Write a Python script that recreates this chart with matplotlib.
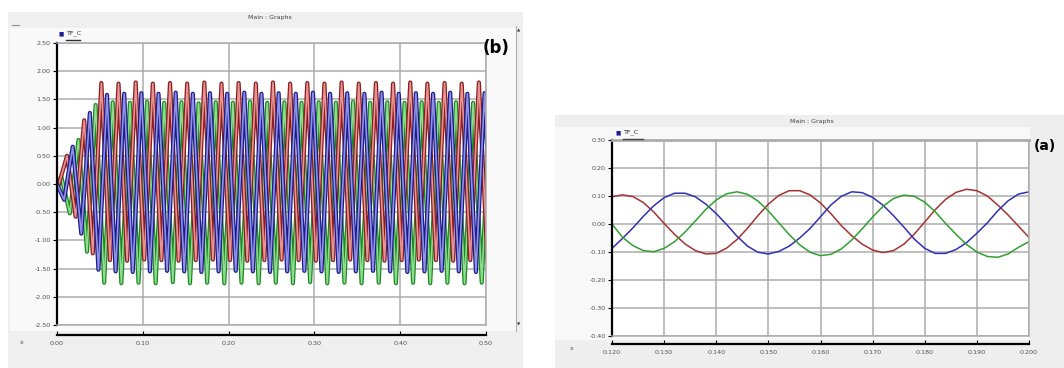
import numpy as np
import matplotlib
matplotlib.use('Agg')
import matplotlib.pyplot as plt

W, H = 1064, 368

# ---- panel (b): start-up of the three phases, one extreme per half cycle ----
# times of the first extreme of each phase (s); extremes follow every half period
b_half_period = 0.01
b_t0_green = 0.005
b_t0_red = 0.0017
b_t0_blue = 0.0083

b_green_peaks = [0.13, -0.52, 0.78, -1.20, 1.40, -1.75,
                 1.45, -1.76, 1.44, -1.75, 1.46, -1.76, 1.44, -1.74, 1.45, -1.76,
                 1.43, -1.75, 1.45, -1.76, 1.44, -1.75, 1.46, -1.76, 1.44, -1.75,
                 1.45, -1.76, 1.44, -1.74, 1.45, -1.76, 1.44, -1.75, 1.46, -1.76,
                 1.44, -1.75, 1.45, -1.76, 1.44, -1.75, 1.45, -1.76, 1.44, -1.75,
                 1.45, -1.76, 1.44, -1.75, 1.45]
b_red_peaks = [-0.03, 0.50, -0.58, 1.13, -1.23, 1.79,
               -1.35, 1.78, -1.36, 1.80, -1.34, 1.78, -1.35, 1.79, -1.36, 1.78,
               -1.35, 1.80, -1.34, 1.78, -1.35, 1.79, -1.36, 1.78, -1.35, 1.80,
               -1.34, 1.78, -1.35, 1.79, -1.36, 1.78, -1.35, 1.80, -1.34, 1.78,
               -1.35, 1.79, -1.36, 1.78, -1.35, 1.80, -1.34, 1.78, -1.35, 1.79,
               -1.36, 1.78, -1.35, 1.80, -1.34]
b_blue_peaks = [-0.28, 0.66, -0.88, 1.26, -1.52, 1.58,
                -1.55, 1.60, -1.56, 1.61, -1.55, 1.60, -1.54, 1.62, -1.55, 1.60,
                -1.56, 1.61, -1.55, 1.60, -1.54, 1.62, -1.55, 1.60, -1.56, 1.61,
                -1.55, 1.60, -1.54, 1.62, -1.55, 1.60, -1.56, 1.61, -1.55, 1.60,
                -1.54, 1.62, -1.55, 1.60, -1.56, 1.61, -1.55, 1.60, -1.54, 1.62,
                -1.55, 1.60, -1.56, 1.61, -1.55]

b_xticks = [0.0, 0.1, 0.2, 0.3, 0.4, 0.5]
b_xlabels = ['0.00', '0.10', '0.20', '0.30', '0.40', '0.50']
b_yticks = [2.5, 2.0, 1.5, 1.0, 0.5, 0.0, -0.5, -1.0, -1.5, -2.0, -2.5]
b_ylabels = ['2.50', '2.00', '1.50', '1.00', '0.50', '0.00', '-0.50', '-1.00',
             '-1.50', '-2.00', '-2.50']

# ---- panel (a): zoom on steady state, sampled every 2 ms ----
a_t_start = 0.120
a_step = 0.002
a_red = [0.097, 0.104, 0.098, 0.077, 0.043, 0.002, -0.037, -0.071, -0.095, -0.107,
         -0.105, -0.086, -0.055, -0.015, 0.030, 0.071, 0.102, 0.119, 0.119, 0.104,
         0.075, 0.037, -0.006, -0.042, -0.072, -0.093, -0.102, -0.095, -0.072, -0.036,
         0.007, 0.051, 0.088, 0.113, 0.124, 0.119, 0.100, 0.068, 0.032, -0.008, -0.048]
a_blue = [-0.087, -0.052, -0.014, 0.027, 0.065, 0.094, 0.110, 0.110, 0.097, 0.071,
          0.037, -0.002, -0.044, -0.079, -0.101, -0.107, -0.098, -0.079, -0.050, -0.016,
          0.026, 0.068, 0.099, 0.115, 0.112, 0.095, 0.067, 0.030, -0.011, -0.054,
          -0.087, -0.105, -0.105, -0.091, -0.067, -0.033, 0.004, 0.047, 0.083, 0.107, 0.115]
a_green = [0.000, -0.047, -0.077, -0.095, -0.099, -0.087, -0.063, -0.029, 0.011, 0.052,
           0.086, 0.108, 0.115, 0.106, 0.082, 0.047, 0.004, -0.038, -0.074, -0.101,
           -0.113, -0.108, -0.089, -0.057, -0.017, 0.025, 0.063, 0.091, 0.103, 0.099,
           0.078, 0.044, 0.002, -0.037, -0.073, -0.100, -0.116, -0.119, -0.107, -0.083, -0.063]

a_xticks = [0.12, 0.13, 0.14, 0.15, 0.16, 0.17, 0.18, 0.19, 0.20]
a_xlabels = ['0.120', '0.130', '0.140', '0.150', '0.160', '0.170', '0.180', '0.190', '0.200']
a_yticks = [0.3, 0.2, 0.1, 0.0, -0.1, -0.2, -0.3, -0.4]
a_ylabels = ['0.30', '0.20', '0.10', '0.00', '-0.10', '-0.20', '-0.30', '-0.40']


def px_axes(fig, left, top, right, bottom, **kw):
    # axes placed by pixel box (origin top-left)
    return fig.add_axes([left / W, 1 - bottom / H, (right - left) / W, (bottom - top) / H], **kw)


def blank(ax, color):
    ax.set_facecolor(color)
    ax.set_xticks([])
    ax.set_yticks([])
    for s in ax.spines.values():
        s.set_visible(False)


def fig_text(fig, x, y, s, **kw):
    fig.text(x / W, 1 - y / H, s, **kw)


def fig_line(fig, xs, ys, **kw):
    fig.lines.append(plt.Line2D([x / W for x in xs], [1 - y / H for y in ys],
                                transform=fig.transFigure, **kw))


def style_plot(ax, xlim, ylim, xticks, yticks, ylabels):
    ax.set_xlim(*xlim)
    ax.set_ylim(*ylim)
    ax.set_xticks(xticks)
    ax.set_yticks(yticks)
    ax.set_yticklabels(ylabels)
    ax.tick_params(axis='y', length=3, width=0.8, pad=1.5, labelsize=4.6, labelcolor='#505050')
    ax.tick_params(axis='x', length=0, labelbottom=False)
    ax.grid(True, color='#acacac', lw=1.1)
    ax.set_axisbelow(True)
    for side in ['top', 'right', 'bottom']:
        ax.spines[side].set_color('#acacac')
        ax.spines[side].set_linewidth(1.1)
    ax.spines['left'].set_color('black')
    ax.spines['left'].set_linewidth(1.6)


def x_axis(fig, left, right, y, xlim, xticks, xlabels):
    axx = px_axes(fig, left, y - 0.5, right, y)
    axx.patch.set_visible(False)
    axx.set_xlim(*xlim)
    axx.set_yticks([])
    for side in ['top', 'right', 'left']:
        axx.spines[side].set_visible(False)
    axx.spines['bottom'].set_linewidth(1.6)
    axx.set_xticks(xticks)
    axx.set_xticklabels(xlabels)
    axx.tick_params(axis='x', direction='in', length=3, width=0.8, pad=4,
                    labelsize=4.6, labelcolor='#505050')


fig = plt.figure(figsize=(W / 100, H / 100), dpi=100)
fig.patch.set_facecolor('white')

# ================= left panel (b) =================
bg = px_axes(fig, 8, 12, 523, 368)
blank(bg, '#efefef')
inner = px_axes(fig, 10, 28, 516, 331)
blank(inner, '#f9f9f9')
fig_text(fig, 270, 18, 'Main : Graphs', fontsize=4.5, color='#404040', ha='center', va='center')
fig_line(fig, [12, 19], [25, 25], color='#909090', lw=0.8)

axb = px_axes(fig, 57, 43, 486, 325)
axb.set_facecolor('white')
style_plot(axb, (0, 0.5), (-2.5, 2.5), b_xticks, b_yticks, b_ylabels)

phases_b = [
    (b_green_peaks, b_t0_green, '#1c8a22', '#8fdb8f'),
    (b_red_peaks, b_t0_red, '#8e1c1c', '#e59595'),
    (b_blue_peaks, b_t0_blue, '#1c1c8e', '#9191e3'),
]
for peaks, t0, dark, light in phases_b:
    t = np.concatenate([[0.0], t0 + b_half_period * np.arange(len(peaks))])
    v = np.concatenate([[0.0], peaks])
    axb.plot(t, v, color=dark, lw=3.0)
    axb.plot(t, v, color=light, lw=1.2)

x_axis(fig, 57, 486, 335, (0, 0.5), b_xticks, b_xlabels)
fig_text(fig, 22, 342, 'x', fontsize=4.5, color='#505050', ha='center', va='center')

# legend
fig_text(fig, 61, 34, '\u25a0', fontsize=4, color='#1c1c9a', ha='center', va='center')
fig_text(fig, 66, 33.5, 'TF_C', fontsize=4.6, color='#303030', ha='left', va='center')
fig_line(fig, [66, 80], [40, 40], color='#303030', lw=1.0)
fig_text(fig, 496, 48, '(b)', fontsize=12, fontweight='bold', color='black', ha='center', va='center')

# scrollbar
fig_line(fig, [516, 516], [26, 331], color='#b0b0b0', lw=0.8)
fig_text(fig, 519, 30, '\u25b2', fontsize=3, color='#303030', ha='center', va='center')
fig_text(fig, 519, 324, '\u25bc', fontsize=3, color='#303030', ha='center', va='center')

# ================= right panel (a) =================
bg2 = px_axes(fig, 555, 115, 1064, 368)
blank(bg2, '#eeeeee')
inner2 = px_axes(fig, 555, 127, 1030, 340)
blank(inner2, '#f8f8f8')
fig_text(fig, 812, 122, 'Main : Graphs', fontsize=4.5, color='#404040', ha='center', va='center')

axa = px_axes(fig, 612, 140, 1029, 336)
axa.set_facecolor('white')
style_plot(axa, (0.12, 0.20), (-0.4, 0.3), a_xticks, a_yticks, a_ylabels)
axa.spines['top'].set_linewidth(2.0)

t_a = a_t_start + a_step * np.arange(len(a_red))
axa.plot(t_a, a_red, color='#a83232', lw=1.1)
axa.plot(t_a, a_blue, color='#3030b4', lw=1.1)
axa.plot(t_a, a_green, color='#30a030', lw=1.1)

x_axis(fig, 612, 1029, 344, (0.12, 0.20), a_xticks, a_xlabels)
fig_text(fig, 572, 348, 'x', fontsize=4.5, color='#505050', ha='center', va='center')

fig_text(fig, 618, 133, '\u25a0', fontsize=4, color='#1c1c9a', ha='center', va='center')
fig_text(fig, 623, 132.5, 'TF_C', fontsize=4.6, color='#303030', ha='left', va='center')
fig_line(fig, [623, 643], [139, 139], color='#404040', lw=1.0)
fig_text(fig, 1045, 146, '(a)', fontsize=10, fontweight='bold', color='black', ha='center', va='center')

fig.savefig('out.png', dpi=100)
